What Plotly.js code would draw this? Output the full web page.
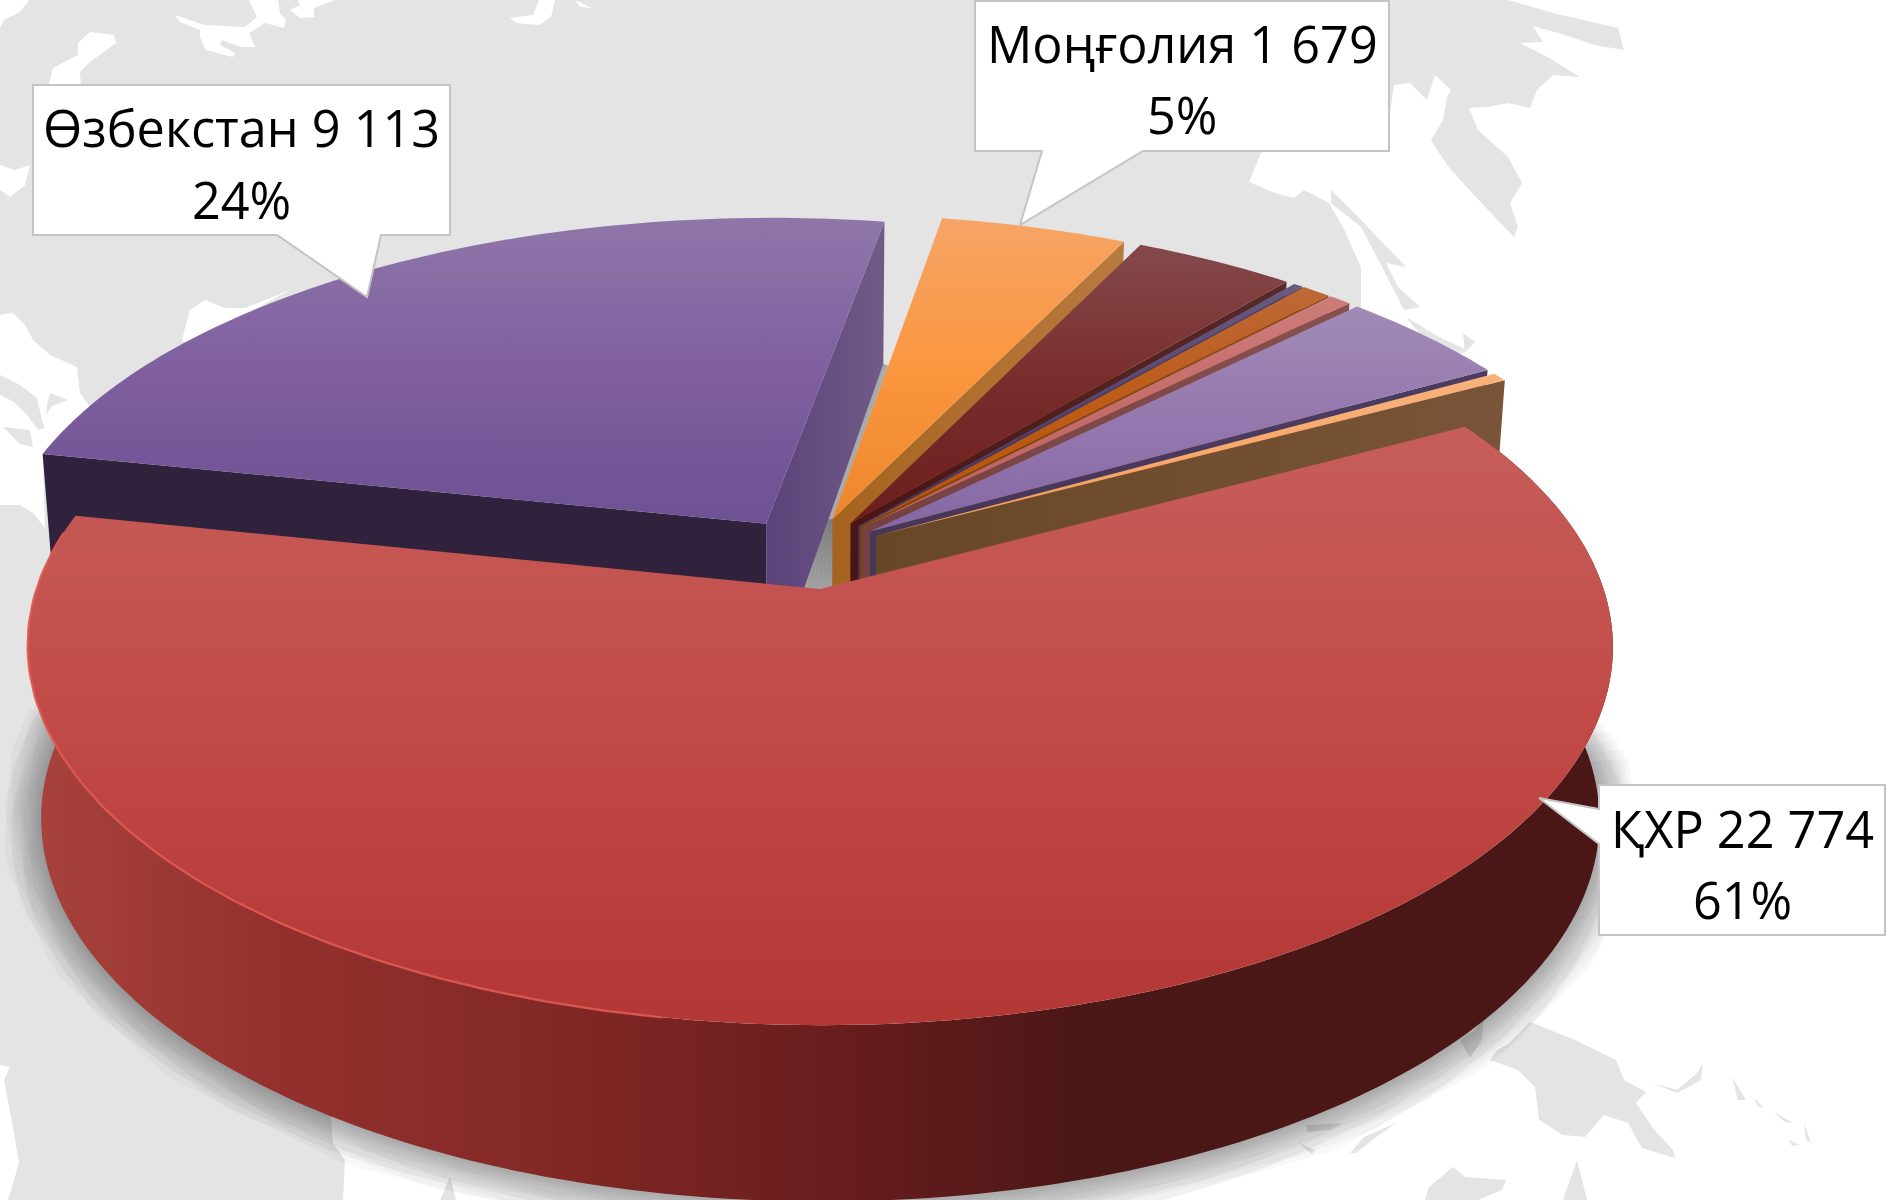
<!DOCTYPE html>
<html>
<head>
<meta charset="utf-8">
<script src="https://cdn.plot.ly/plotly-3.0.1.min.js"></script>
<style>html,body{margin:0;padding:0;background:#fff}#chart{width:1887px;height:1200px}</style>
</head>
<body>
<div id="chart"></div>
<script>
// ---------- data ----------
const categories = ['ҚХР', 'Өзбекстан', 'Моңғолия', '', '', '', '', '', ''];
const values = [22774, 9113, 1679, 1452, 85, 262, 205, 1585, 145];
const topColors = [
  ['#c65e5a', '#c24a46', '#b23735'],
  ['#8f76a9', '#7f5fa0', '#6d5193'],
  ['#f6a466', '#fb963f', '#ec872c'],
  ['#85494b', '#792c2c', '#6c1e1d'],
  ['#695a80', '#55466f', '#453660'],
  ['#bd6836', '#be5b16', '#b85500'],
  ['#cd7c7a', '#c56c6a', '#b95f5d'],
  ['#a08bb6', '#9578ae', '#8468a3'],
  ['#f8b27c', '#f8a868', '#f09a50']
];
const faceColors = [
  ['#4a1716', '#4a1716'],
  ['#5b4179', '#705b88'],
  ['#a6631f', '#b87b3e'],
  ['#4a1514', '#572928'],
  ['#443660', '#4a3c66'],
  ['#7c420c', '#8a4c14'],
  ['#744040', '#875150'],
  ['#463758', '#4c3c62'],
  ['#674725', '#7a5438']
];
const startFaceColor = '#30223c';
const rimStops = [[0, '#a8423c'], [0.16, '#93302d'], [0.3, '#852a28'], [0.45, '#72211f'], [0.58, '#5c1a1a'], [0.66, '#4c1717'], [1, '#4a1716']];
const startAngle = 62;
const explode = 0.1;

// ---------- projection of the tilted disc ----------
const Ox = 809, Oy = 553, bx = 772, ay = 359.4, k = 0.1487;
const rad = d => d * Math.PI / 180;
const proj = (u, v) => { const w = 1 + k * v; return [Ox + bx * u / w, Oy - ay * v / w]; };
const depth = v => v > 0 ? 172 - 28 * v : 172 - 4 * v;
const low = (u, v) => { const p = proj(u, v); return [820 + (p[0] - 820) * 0.983, p[1] + depth(v)]; };
const total = values.reduce((a, b) => a + b, 0);

const slices = [];
let cur = startAngle;
values.forEach((val, i) => {
  const span = val / total * 360;
  const mid = cur + span / 2;
  slices.push({ i, t0: cur, t1: cur + span, du: explode * Math.sin(rad(mid)), dv: explode * Math.cos(rad(mid)) });
  cur += span;
});
const rimPoint = (s, t) => [s.du + Math.sin(rad(t)), s.dv + Math.cos(rad(t))];
const apex = s => [s.du, s.dv];

const poly = (pts, extra) => Object.assign({
  type: 'scatter', mode: 'none', x: pts.map(p => p[0]), y: pts.map(p => p[1]),
  fill: 'toself', hoverinfo: 'skip', showlegend: false
}, extra);
const stroke = (pts, w, color) => ({
  type: 'scatter', mode: 'lines', x: pts.map(p => p[0]), y: pts.map(p => p[1]),
  line: { width: w, color: color, shape: 'linear' }, hoverinfo: 'skip', showlegend: false
});
const arcAngles = (a, b) => { const r = []; for (let t = a; t < b; t += 1) r.push(t); r.push(b); return r; };
const range = (pts, idx) => { const c = pts.map(p => p[idx]); return [Math.min(...c), Math.max(...c)]; };
const threeStop = c => [[0, c[0]], [0.5, c[1]], [1, c[2]]];
const vGrad = (pts, c) => { const r = range(pts, 1); return { type: 'vertical', start: r[0], stop: r[1], colorscale: threeStop(c) }; };
const hGrad = (pts, stops) => { const r = range(pts, 0); return { type: 'horizontal', start: r[0], stop: r[1], colorscale: stops }; };

const traces = [];

// soft drop shadows, under everything (widest strokes taper off earliest)
const china = slices[0], uz = slices[1], mong = slices[2];
const shadowSteps = [78, 72, 66, 60, 54, 48, 42, 36, 30, 24, 18, 12, 6];
shadowSteps.forEach(w => {
  const taper = w / 78;
  const arc = arcAngles(74 + 16 * taper, 298 - 22 * taper).map(t => { const d = rimPoint(china, t); return low(d[0], d[1]); });
  traces.push(stroke(arc, w, 'rgba(0,0,0,0.026)'));
});
[[rimPoint(uz, uz.t1), apex(uz)].map(d => low(d[0], d[1])),
 [proj(apex(mong)[0], apex(mong)[1]), low(apex(mong)[0], apex(mong)[1])]].forEach(path => {
  [56, 48, 40, 32, 24, 16, 8].forEach(w => traces.push(stroke(path, w, 'rgba(0,0,0,0.04)')));
});

// slices: back ones first, the large front one last
[1, 2, 3, 4, 5, 6, 7, 8, 0].forEach(idx => {
  const s = slices[idx];
  const a = apex(s);
  const s0 = rimPoint(s, s.t0), s1 = rimPoint(s, s.t1);
  const face = (d) => [proj(a[0], a[1]), proj(d[0], d[1]), low(d[0], d[1]), low(a[0], a[1])];
  if (Math.sin(rad(s.t0)) < 0) {
    traces.push(poly(face(s0), { fillcolor: startFaceColor }));
  }
  if (Math.sin(rad(s.t1)) > 0) {
    const f = face(s1);
    traces.push(poly(f, { fillgradient: hGrad(f, [[0, faceColors[idx][0]], [1, faceColors[idx][1]]]) }));
  }
  const hasFront = idx === 0;
  if (hasFront) {
    const angs = arcAngles(s.t0, s.t1);
    const up = angs.map(t => { const d = rimPoint(s, t); return proj(d[0], d[1]); });
    const dn = angs.map(t => { const d = rimPoint(s, t); return low(d[0], d[1]); }).reverse();
    const rim = up.concat(dn);
    traces.push(poly(rim, { fillgradient: hGrad(rim, rimStops) }));
  }
  const arc = arcAngles(s.t0, s.t1).map(t => { const d = rimPoint(s, t); return proj(d[0], d[1]); });
  const top = [proj(a[0], a[1])].concat(arc);
  traces.push(poly(top, { fillgradient: vGrad(top, topColors[idx]) }));
  if (hasFront) {
    const lit = arcAngles(190, 279).map(t => { const d = rimPoint(s, t); return proj(d[0], d[1]); });
    traces.push(stroke(lit, 2.4, 'rgba(226,88,82,0.85)'));
  }
});

// ---------- background map (decoration) ----------
const pathOf = pts => 'M' + pts.map(p => p[0] + ',' + p[1]).join('L') + 'Z';
const mapGray = '#e4e4e4';
const mainland = [[0,0],[1508,0],[1553,13],[1618,28],[1624,50],[1594,45],[1565,35],[1533,26],[1543,42],[1520,43],[1549,58],[1580,77],[1553,75],[1537,90],[1530,108],[1508,103],[1488,107],[1469,108],[1478,130],[1508,157],[1522,183],[1510,203],[1518,227],[1514,237],[1488,210],[1451,170],[1437,150],[1431,140],[1443,120],[1447,97],[1451,90],[1435,75],[1427,100],[1410,83],[1394,85],[1389,120],[1300,140],[1261,153],[1249,182],[1275,193],[1294,198],[1304,190],[1329,203],[1343,227],[1361,267],[1361,300],[1361,400],[1000,800],[330,1105],[333,1143],[345,1160],[343,1200],[8,1200],[19,1163],[13,1127],[4,1080],[10,1067],[0,1065],[0,0]];
const grayIslands = [
  [[1331,190],[1361,220],[1406,267],[1386,263],[1398,287],[1420,307],[1404,310],[1382,267],[1361,227],[1331,203]],
  [[1406,317],[1439,337],[1467,350],[1459,355],[1430,343],[1414,327]],
  [[1463,333],[1475,342],[1465,353]],
  [[1530,1022],[1575,1040],[1616,1060],[1624,1080],[1646,1092],[1636,1103],[1652,1127],[1673,1150],[1675,1158],[1642,1148],[1628,1123],[1604,1115],[1585,1137],[1563,1135],[1539,1120],[1535,1087],[1518,1070],[1490,1060],[1497,1050],[1508,1044]],
  [[1460,1040],[1475,1030],[1484,1017],[1482,1040],[1470,1058]],
  [[1652,1083],[1677,1090],[1697,1073],[1703,1063],[1701,1080],[1677,1093]],
  [[1732,1077],[1746,1100],[1738,1100]],
  [[1754,1098],[1764,1108],[1758,1106]],
  [[1774,1112],[1793,1123],[1785,1122]],
  [[1804,1123],[1811,1143],[1806,1140]],
  [[1789,1140],[1800,1145],[1792,1146]],
  [[1350,1153],[1364,1137],[1396,1123],[1375,1138],[1356,1153]],
  [[1307,1125],[1343,1123],[1330,1130],[1307,1132]],
  [[1297,1142],[1315,1150],[1312,1154]],
  [[1425,1200],[1429,1187],[1453,1167],[1465,1177],[1506,1180],[1502,1190],[1478,1200]],
  [[1563,1200],[1577,1160],[1587,1200]],
  [[440,1200],[450,1177],[456,1200]]
];
const whiteSeas = [
  [[0,315],[13,313],[25,325],[33,340],[50,355],[77,367],[80,393],[90,407],[43,458],[45,528],[33,513],[20,505],[0,505]],
  [[45,100],[53,68],[78,55],[78,43],[90,32],[114,35],[116,43],[90,62],[80,72],[82,100]],
  [[0,28],[4,20],[20,12],[29,0],[0,0]],
  [[175,15],[204,25],[245,27],[257,17],[249,0],[278,0],[280,13],[286,20],[284,28],[265,23],[249,33],[255,47],[241,47],[222,40],[220,45],[235,53],[233,57],[206,50],[200,37],[200,30],[180,22]],
  [[290,10],[300,5],[298,0],[335,0],[314,8],[314,17],[300,18]],
  [[510,18],[533,15],[539,0],[555,0],[551,17],[539,25],[516,23]],
  [[575,0],[592,8],[580,7]],
  [[0,165],[15,170],[30,165],[25,185],[10,197],[0,190]],
  [[182,340],[190,310],[205,300],[225,308],[245,308],[290,290],[250,312],[200,350]]
];
const grayOverWhite = [
  [[0,375],[20,385],[37,398],[42,420],[45,428],[38,430],[28,416],[14,402],[0,395]],
  [[50,393],[68,400],[52,406],[46,415],[48,400]],
  [[3,427],[30,430],[33,447],[20,444]]
];
const mapShape = (pts, color) => ({
  type: 'path', xref: 'x', yref: 'y', layer: 'below', path: pathOf(pts),
  fillcolor: color, line: { width: 0 }
});
const shapes = [mapShape(mainland, mapGray)]
  .concat(grayIslands.map(p => mapShape(p, mapGray)))
  .concat(whiteSeas.map(p => mapShape(p, '#ffffff')))
  .concat(grayOverWhite.map(p => mapShape(p, mapGray)));

// ---------- callouts ----------
const callouts = [
  { i: 1, outline: [[33,85],[450,85],[450,235],[381,235],[367,297],[277,235],[33,235]], cx: 241, y1: 127, y2: 199 },
  { i: 2, outline: [[975,1],[1389,1],[1389,151],[1143,151],[1020,225],[1042,151],[975,151]], cx: 1182, y1: 43, y2: 114 },
  { i: 0, outline: [[1599,785],[1885,785],[1885,935],[1599,935],[1599,844],[1539,798],[1599,809]], cx: 1742, y1: 828, y2: 899 }
];
const annotations = [];
const fmt = v => String(v).replace(/\B(?=(\d{3})+$)/g, ' ');
callouts.forEach(c => {
  shapes.push({ type: 'path', xref: 'x', yref: 'y', layer: 'above', path: pathOf(c.outline),
    fillcolor: '#ffffff', line: { width: 2, color: '#c4c4c4' } });
  const label = categories[c.i] + ' ' + fmt(values[c.i]);
  const pct = Math.round(values[c.i] / total * 100) + '%';
  [[label, c.y1], [pct, c.y2]].forEach(t => annotations.push({
    xref: 'x', yref: 'y', x: c.cx, y: t[1], text: t[0], showarrow: false,
    xanchor: 'center', yanchor: 'middle',
    font: { family: '"Open Sans","Noto Sans",sans-serif', size: 50.4, color: '#000000' }
  }));
});

Plotly.newPlot('chart', traces, {
  width: 1887, height: 1200,
  margin: { l: 0, r: 0, t: 0, b: 0 },
  paper_bgcolor: '#ffffff', plot_bgcolor: 'rgba(0,0,0,0)',
  showlegend: false,
  xaxis: { range: [0, 1887], visible: false, fixedrange: true },
  yaxis: { range: [1200, 0], visible: false, fixedrange: true },
  shapes: shapes, annotations: annotations
}, { displayModeBar: false, staticPlot: true });
</script>
</body>
</html>
